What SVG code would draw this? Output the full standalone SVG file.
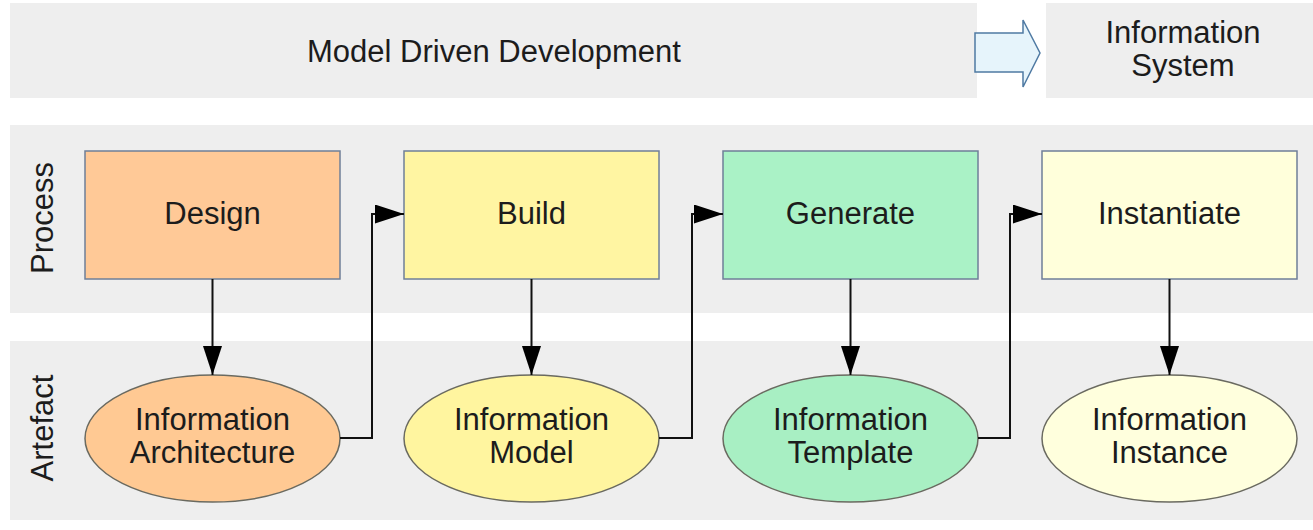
<svg xmlns="http://www.w3.org/2000/svg" width="1313" height="530" viewBox="0 0 1313 530">
  <style>
    .band { fill: #eeeeee; }
    .lbl { font-family: "Liberation Sans", Arial, sans-serif; font-size: 31px; fill: #1c1c1c; text-anchor: middle; }
    .box { stroke: #6f7f98; stroke-width: 1.5; }
    .ell { stroke: #6a6a60; stroke-width: 1.5; }
    .conn { fill: none; stroke: #111111; stroke-width: 2; }
  </style>
  <defs>
    <marker id="arrow" markerUnits="userSpaceOnUse" markerWidth="30" markerHeight="20" refX="29" refY="9.5" orient="auto">
      <path d="M0,0 L29,9.5 L0,19 Z" fill="#000000"/>
    </marker>
  </defs>

  <rect width="1313" height="530" fill="#ffffff"/>

  <!-- header bands -->
  <g id="header-mdd">
    <rect class="band" x="10" y="3" width="967" height="95"/>
    <text class="lbl" x="494" y="62">Model Driven Development</text>
  </g>
  <g id="header-arrow">
    <path d="M975,33 L1023,33 L1023,20 L1040,53 L1023,87 L1023,72 L975,72 Z" fill="#e6f4fb" stroke="#4f7aa3" stroke-width="1.5"/>
  </g>
  <g id="header-is">
    <rect class="band" x="1046" y="3" width="267" height="95"/>
    <text class="lbl" x="1183" y="43">Information</text>
    <text class="lbl" x="1183" y="76">System</text>
  </g>

  <!-- swimlanes -->
  <g id="lane-process">
    <rect class="band" x="10" y="125" width="1303" height="188"/>
    <text class="lbl" transform="translate(53,218) rotate(-90)">Process</text>
  </g>
  <g id="lane-artefact">
    <rect class="band" x="10" y="341" width="1303" height="179"/>
    <text class="lbl" transform="translate(53,428) rotate(-90)">Artefact</text>
  </g>

  <!-- process nodes -->
  <g id="design">
    <rect class="box" x="85" y="151" width="255" height="128" fill="#ffc997"/>
    <text class="lbl" x="212.5" y="224">Design</text>
  </g>
  <g id="build">
    <rect class="box" x="404" y="151" width="255" height="128" fill="#fff5a2"/>
    <text class="lbl" x="531.5" y="224">Build</text>
  </g>
  <g id="generate">
    <rect class="box" x="723" y="151" width="255" height="128" fill="#aaf2c6"/>
    <text class="lbl" x="850.5" y="224">Generate</text>
  </g>
  <g id="instantiate">
    <rect class="box" x="1042" y="151" width="255" height="128" fill="#ffffdb"/>
    <text class="lbl" x="1169.5" y="224">Instantiate</text>
  </g>

  <!-- artefact nodes -->
  <g id="info-architecture">
    <ellipse class="ell" cx="212.5" cy="438.5" rx="127.5" ry="63.5" fill="#ffc993"/>
    <text class="lbl" x="212.5" y="430">Information</text>
    <text class="lbl" x="212.5" y="463">Architecture</text>
  </g>
  <g id="info-model">
    <ellipse class="ell" cx="531.5" cy="438.5" rx="127.5" ry="63.5" fill="#fff59f"/>
    <text class="lbl" x="531.5" y="430">Information</text>
    <text class="lbl" x="531.5" y="463">Model</text>
  </g>
  <g id="info-template">
    <ellipse class="ell" cx="850.5" cy="438.5" rx="127.5" ry="63.5" fill="#a8efc3" stroke="#3f7a68"/>
    <text class="lbl" x="850.5" y="430">Information</text>
    <text class="lbl" x="850.5" y="463">Template</text>
  </g>
  <g id="info-instance">
    <ellipse class="ell" cx="1169.5" cy="438.5" rx="127.5" ry="63.5" fill="#ffffdd"/>
    <text class="lbl" x="1169.5" y="430">Information</text>
    <text class="lbl" x="1169.5" y="463">Instance</text>
  </g>

  <!-- connectors -->
  <g id="connectors">
    <path class="conn" d="M212.5,279 L212.5,375" marker-end="url(#arrow)"/>
    <path class="conn" d="M531.5,279 L531.5,375" marker-end="url(#arrow)"/>
    <path class="conn" d="M850.5,279 L850.5,375" marker-end="url(#arrow)"/>
    <path class="conn" d="M1169.5,279 L1169.5,375" marker-end="url(#arrow)"/>
    <path class="conn" d="M340,438 L372,438 L372,214 L404,214" marker-end="url(#arrow)"/>
    <path class="conn" d="M659,438 L692,438 L692,214 L723,214" marker-end="url(#arrow)"/>
    <path class="conn" d="M978,438 L1010,438 L1010,214 L1042,214" marker-end="url(#arrow)"/>
  </g>
</svg>
